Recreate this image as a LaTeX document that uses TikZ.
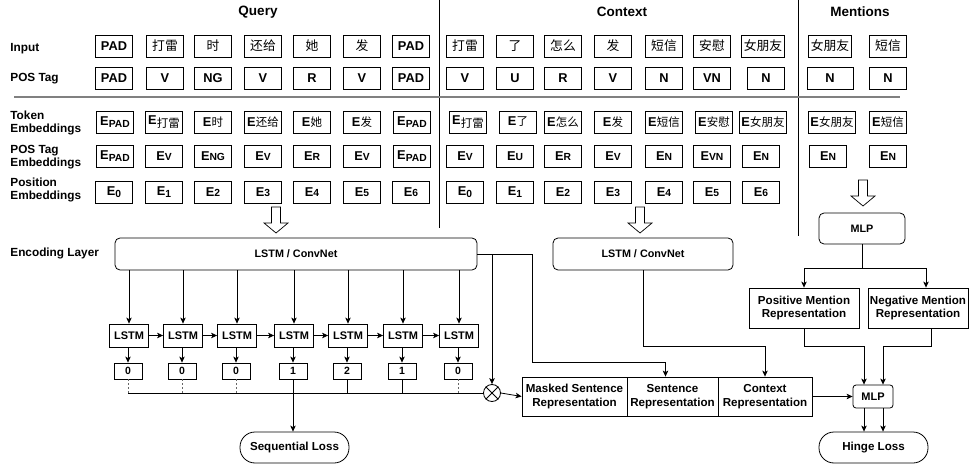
\documentclass[tikz,border=0pt]{standalone}
\usepackage{fontspec}
\setmainfont{Liberation Sans}
\newfontfamily\cjk{Noto Sans CJK SC}
\usetikzlibrary{arrows.meta}
\newcommand{\zh}[1]{{\cjk\mdseries #1}}
\newcommand{\zhs}[1]{{\fontsize{11.5}{12}\selectfont\cjk\mdseries #1}}
\newcommand{\Elow}[1]{E\raisebox{-2.5pt}{\fontsize{10.3}{10}\selectfont #1}}
\newcommand{\Esm}[1]{E{\fontsize{10.3}{10}\selectfont #1}}
\tikzset{
  tok/.style={draw, minimum width=37pt, minimum height=22pt, inner xsep=2pt, inner ysep=0pt, font=\bfseries\fontsize{12.8}{13}\selectfont},
  lbl/.style={anchor=west, align=left, inner sep=0pt, font=\bfseries\fontsize{11.8}{13.5}\selectfont},
  hdr/.style={inner sep=0pt, font=\bfseries\fontsize{13.5}{14}\selectfont},
  lstmbox/.style={draw, minimum width=39pt, minimum height=23pt, inner sep=0pt, font=\bfseries\fontsize{11}{11}\selectfont},
  numbox/.style={draw, minimum width=28pt, minimum height=16pt, inner sep=0pt, font=\bfseries\fontsize{10.5}{10}\selectfont},
  repbox/.style={draw, minimum height=39pt, inner sep=0pt, align=center, font=\bfseries\fontsize{11.6}{13.5}\selectfont},
  rbox/.style={draw, rounded corners=5pt, inner sep=0pt, font=\bfseries\fontsize{10.8}{11}\selectfont},
  lossbox/.style={draw, rounded corners=15pt, minimum width=109pt, minimum height=31pt, inner sep=0pt, font=\bfseries\fontsize{11.6}{12}\selectfont},
  arr/.style={-{Stealth[length=6pt,width=5.5pt,inset=1.5pt]}},
  dashln/.style={dash pattern=on 2pt off 2pt, gray!80!black},
  harrow/.pic={\draw[fill=white, line width=0.7pt] (-4.5,0) -- (-4.5,16) -- (-12,16) -- (0,26) -- (12,16) -- (4.5,16) -- (4.5,0) -- cycle;}
}
\begin{document}
\begin{tikzpicture}[x=1pt, y=-1pt, line width=0.8pt]
\useasboundingbox (0,0) rectangle (969,465);

% headers
\node[hdr] (hq) at (258,12) {Query};
\node[hdr] (hc) at (622,12) {Context};
\node[hdr] (hm) at (860,12) {Mentions};

% separators
\draw (439,0) -- (439,228);
\draw (798,0) -- (798,236);
\draw[gray, line width=1.2pt] (14,97) -- (900,97);

% row labels
\node[lbl] (l1) at (10,49) {Input};
\node[lbl] (l2) at (10,79) {POS Tag};
\node[lbl] (l3) at (10,123) {Token\\Embeddings};
\node[lbl] (l4) at (10,157) {POS Tag\\Embeddings};
\node[lbl] (l5) at (10,190) {Position\\Embeddings};
\node[lbl] (l6) at (10,253) {Encoding Layer};

% Query columns
\foreach \x/\t [count=\i] in {114/PAD,165/\zh{打雷},213/\zh{时},263/\zh{还给},312/\zh{她},362/\zh{发},411/PAD}
  \node[tok] (qin\i) at (\x,46) {\t};
\foreach \x/\t [count=\i] in {114/PAD,165/V,213/NG,263/V,312/R,362/V,411/PAD}
  \node[tok] (qpos\i) at (\x,78) {\t};
\foreach \x/\t [count=\i] in {115/\Elow{PAD},164/\Elow{\zhs{打雷}},213/\Esm{\zhs{时}},263/\Esm{\zhs{还给}},312/\Esm{\zhs{她}},362/\Esm{\zhs{发}},412/\Elow{PAD}}
  \node[tok] (qtok\i) at (\x,122) {\t};
\foreach \x/\t [count=\i] in {115/\Elow{PAD},164/\Esm{V},213/\Esm{NG},263/\Esm{V},312/\Esm{R},362/\Esm{V},412/\Elow{PAD}}
  \node[tok] (qpe\i) at (\x,156) {\t};
\foreach \x/\t [count=\i] in {114/\Elow{0},164/\Elow{1},213/\Esm{2},263/\Esm{3},312/\Esm{4},362/\Esm{5},411/\Esm{6}}
  \node[tok] (qps\i) at (\x,192) {\t};

% Context columns
\foreach \x/\t [count=\i] in {465/\zh{打雷},515/\zh{了},563/\zh{怎么},613/\zh{发},664/\zh{短信},712/\zh{安慰},763/\zh{女朋友}}
  \node[tok] (cin\i) at (\x,46) {\t};
\foreach \x/\t [count=\i] in {465/V,515/U,563/R,613/V,664/N,712/VN,766/N}
  \node[tok] (cpos\i) at (\x,78) {\t};
\foreach \x/\t [count=\i] in {468/\Elow{\zhs{打雷}},518/\Esm{\zhs{了}},563/\Esm{\zhs{怎么}},613/\Esm{\zhs{发}},664/\Esm{\zhs{短信}},714/\Esm{\zhs{安慰}},763/\Esm{\zhs{女朋友}}}
  \node[tok] (ctok\i) at (\x,122) {\t};
\foreach \x/\t [count=\i] in {465/\Esm{V},515/\Esm{U},563/\Esm{R},613/\Esm{V},664/\Esm{N},712/\Esm{VN},761/\Esm{N}}
  \node[tok] (cpe\i) at (\x,156) {\t};
\foreach \x/\t [count=\i] in {465/\Elow{0},515/\Elow{1},563/\Esm{2},613/\Esm{3},664/\Esm{4},712/\Esm{5},761/\Esm{6}}
  \node[tok] (cps\i) at (\x,192) {\t};

% Mentions columns
\node[tok] (min1) at (830,46) {\zh{女朋友}};
\node[tok] (min2) at (888,46) {\zh{短信}};
\node[tok, minimum width=46pt] (mpos1) at (830,78) {N};
\node[tok] (mpos2) at (888,78) {N};
\node[tok] (mtok1) at (832,122) {\Esm{\zhs{女朋友}}};
\node[tok] (mtok2) at (888,122) {\Esm{\zhs{短信}}};
\node[tok] (mpe1) at (828,156) {\Esm{N}};
\node[tok] (mpe2) at (888,156) {\Esm{N}};

% hollow arrows
\pic at (276,207) {harrow};
\pic at (640,207) {harrow};
\pic at (863,180) {harrow};

% encoding layers
\node[rbox, minimum width=362pt, minimum height=32pt] (enc) at (296,254) {LSTM / ConvNet};
\node[rbox, minimum width=180pt, minimum height=32pt] (cenc) at (643,254) {LSTM / ConvNet};
\node[rbox, minimum width=86pt, minimum height=31pt] (mlp) at (862,228.5) {MLP};

% LSTM chain
\foreach \x/\n [count=\i] in {129/0,183/0,237/0,294/1,348/2,403/1,459/0} {
  \node[lstmbox] (ls\i) at (\x,335.5) {LSTM};
  \node[numbox] (nb\i) at (\x-1,371) {\n};
  \draw[arr] (enc.south -| ls\i) -- (ls\i.north);
  \draw[arr] (ls\i.south -| nb\i) -- (nb\i.north);
}
\foreach \i/\j in {1/2,2/3,3/4,4/5,5/6,6/7}
  \draw[arr] (ls\i.east) -- (ls\j.west);

% otimes
\node[draw, circle, minimum size=17pt, inner sep=0pt] (ot) at (492,393) {};
\draw (ot.north west) -- (ot.south east);
\draw (ot.north east) -- (ot.south west);
\coordinate (hl) at (128,393);
\draw (hl) -- (ot.west);
\foreach \i in {1,2,3,7}
  \draw[dashln] (nb\i.south) -- (nb\i.south |- hl);
\foreach \i in {5,6}
  \draw (nb\i.south) -- (nb\i.south |- hl);

% losses
\node[lossbox] (seq) at (294.5,447.5) {Sequential Loss};
\node[lossbox] (hinge) at (873.5,447.5) {Hinge Loss};
\draw[arr] (nb4.south) -- (nb4.south |- seq.north);

% representation boxes
\node[repbox, minimum width=105pt] (masked) at (574.5,396.5) {Masked Sentence\\Representation};
\node[repbox, minimum width=91pt] (sent) at (672.5,396.5) {Sentence\\Representation};
\node[repbox, minimum width=94pt] (ctxrep) at (765,396.5) {Context\\Representation};
\draw[arr] (ot.east) -- (masked.west);

% encoding outputs
\coordinate (eb) at (532,254);
\coordinate (ec) at (532,362);
\draw (enc.east) -- (eb);
\draw[arr] (eb) -- (ec) -| ([xshift=-7pt]sent.north);
\draw[arr] (enc.east -| ot) -- (ot.north);
\coordinate (cc) at (643,346);
\draw[arr] (cenc.south) -- (cc) -| (ctxrep.north);

% mentions branch
\node[draw, minimum width=110pt, minimum height=40pt, inner sep=0pt, align=center, font=\bfseries\fontsize{11.6}{13.5}\selectfont] (pos) at (804,308) {Positive Mention\\Representation};
\node[draw, minimum width=100pt, minimum height=40pt, inner sep=0pt, align=center, font=\bfseries\fontsize{11.6}{13.5}\selectfont] (neg) at (918,308) {Negative Mention\\Representation};
\coordinate (mb) at (862,268);
\draw (mlp.south) -- (mb);
\draw[arr] (mb) -| (pos.north);
\draw[arr] (mb) -| ([xshift=8pt]neg.north);

\node[draw, rounded corners=3pt, minimum width=40pt, minimum height=23pt, inner sep=0pt, font=\bfseries\fontsize{11}{11}\selectfont] (mlp2) at (873,396.5) {MLP};
\draw[arr] (pos.south) |- ++(0,18) -| ([xshift=-9pt]mlp2.north);
\draw[arr] ([xshift=13pt]neg.south) |- ++(0,18) -| ([xshift=10pt]mlp2.north);
\draw[arr] (ctxrep.east) -- (mlp2.west);
\draw[arr] ([xshift=-9pt]mlp2.south) -- ([xshift=-9pt]mlp2.south |- hinge.north);
\draw[arr] ([xshift=10pt]mlp2.south) -- ([xshift=10pt]mlp2.south |- hinge.north);
\end{tikzpicture}
\end{document}
